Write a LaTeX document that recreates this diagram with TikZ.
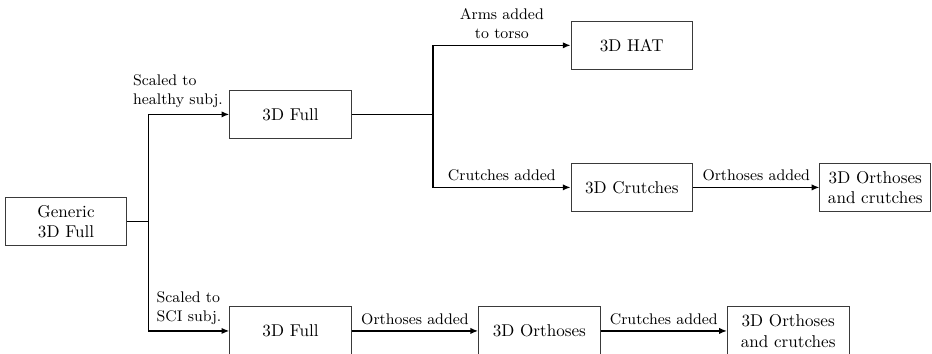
\documentclass[tikz,border=0pt]{standalone}
\usepackage{tikz}
\usetikzlibrary{arrows.meta,positioning}
\definecolor{Edge}{HTML}{3A3A3A}
\tikzset{
  modelbox/.style={draw=Edge,align=center,minimum width=25mm,minimum height=10mm,inner sep=3pt},
  flow/.style={-{Latex[length=1.6mm,width=1.3mm]},line width=0.9pt},
  note/.style={font=\small,align=left}
}

\begin{document}
\begin{tikzpicture}[node distance=8mm and 26mm]
  \useasboundingbox (-38.6pt,-77.5pt) rectangle (506.4pt,129.5pt);
  \node[modelbox] (gen) {Generic\\3D Full};
  \node[modelbox,right=21mm of gen,yshift=22mm] (full1) {3D Full};
  \node[modelbox,right=21mm of gen,yshift=-22.5mm] (full2) {3D Full};
  \node[modelbox,right=45mm of full1,yshift=14.2mm] (hat) {3D HAT};
  \node[modelbox,right=45mm of full1,yshift=-15mm] (crut) {3D Crutches};
  \node[modelbox,minimum width=22.8mm,right=of crut] (oc1) {3D Orthoses\\and crutches};
  \node[modelbox,right=of full2] (orth) {3D Orthoses};
  \node[modelbox,right=of orth] (oc2) {3D Orthoses\\and crutches};
  % branch points
  \coordinate[right=4.4mm of gen] (split1);
  \coordinate[right=16.7mm of full1] (split2);
  \draw[flow] (gen) -- (split1) |- node[note,above left,pos=1]{Scaled to\\healthy subj.} (full1);
  \draw[flow] (split1) |- node[note,above,pos=0.75]{Scaled to\\SCI subj.} (full2);
  \draw[flow] (full1) -- (split2) |- node[note,above,pos=0.75,align=center]{Arms added\\to torso} (hat);
  \draw[flow] (split2) |- node[note,above,pos=0.75]{Crutches added} (crut);
  \draw[flow] (crut) -- node[note,above]{Orthoses added} (oc1);
  \draw[flow] (full2) -- node[note,above]{Orthoses added} (orth);
  \draw[flow] (orth) -- node[note,above]{Crutches added} (oc2);
\end{tikzpicture}
\end{document}
